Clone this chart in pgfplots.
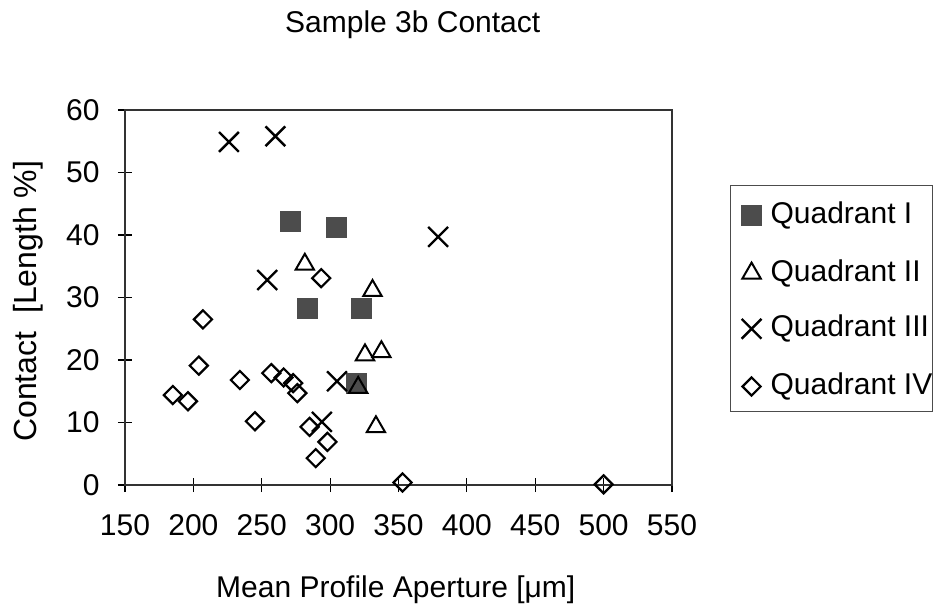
\documentclass[border=0pt]{standalone}
\usepackage{fontspec}
\setmainfont{Liberation Sans}
\usepackage{pgfplots}
\pgfplotsset{compat=1.18}
\begin{document}
\begin{tikzpicture}[font=\fontsize{15bp}{18bp}\selectfont]
\useasboundingbox (-62.5bp,-61bp) rectangle (408.5bp,242.5bp);
\begin{axis}[
  scale only axis, width=273.5bp, height=187.5bp,
  xmin=150, xmax=550, ymin=0, ymax=60,
  xtick={150,200,...,550}, ytick={0,10,...,60},
  xtick pos=bottom, ytick pos=left,
  /pgf/number format/assume math mode=true,
  tick align=center, major tick length=7bp,
  every tick/.style={black, line width=0.6bp},
  axis line style={black!80, line width=0.8bp},
  xticklabel style={anchor=center, yshift=-16.5bp, inner sep=0pt},
  yticklabel style={anchor=east, inner sep=0pt, xshift=-9bp},
  title={Sample 3b Contact},
  title style={at={(axis description cs:0.526,1.208)}, anchor=base, inner sep=0pt, yshift=-6pt},
  xlabel={Mean Profile Aperture [μm]},
  xlabel style={at={(axis description cs:0.495,-0.2987)}, anchor=base, inner sep=0pt},
  ylabel={Contact\ \ [Length \%]},
  ylabel style={at={(axis description cs:-0.1773,0.49)}, anchor=center, rotate=0, inner sep=0pt, font=\fontsize{16bp}{19bp}\selectfont},
  clip=false,
  legend cell align=left,
  legend style={at={(1.106,0.8)}, anchor=north west, draw=black!70, line width=0.6bp,
    inner xsep=0pt, inner ysep=8bp, row sep=17bp,
    nodes={inner sep=0pt, text height=10.8bp, text depth=0bp},
    /tikz/every even column/.append style={column sep=0pt},
    /tikz/every odd column/.append style={column sep=0pt}},
  legend image code/.code={\path[draw=none,fill=none] (0bp,-5bp) rectangle (20bp,5bp); \draw[#1] plot coordinates {(10.5bp,-1.5bp)};},
]
\addplot[only marks, mark=square*, mark size=5bp, mark options={fill=black!70, draw=black!70}]
  coordinates {(271,42.1) (304.5,41.2) (283.5,28.3) (323,28.3) (319.5,16.3)};
\addlegendentry{Quadrant I}
\addplot[only marks, mark=triangle, mark size=5.3bp, mark options={line width=1bp, draw=black}]
  coordinates {(281.5,35.3) (331,31.1) (325.5,20.8) (337.5,21.3) (320.5,15.6) (333.5,9.3)};
\addlegendentry{Quadrant II}
\addplot[only marks, mark=x, mark size=7bp, mark options={line width=1.2bp, draw=black}]
  coordinates {(226,54.9) (260,55.8) (254,32.8) (305,16.6) (294,10.1) (379,39.7)};
\addlegendentry{Quadrant III}
\addplot[only marks, mark=square, mark size=3.2bp, mark options={rotate=45, line width=1.1bp, draw=black}]
  coordinates {(207,26.5) (204,19.1) (185,14.4) (196,13.4) (234,16.8) (245,10.2) (257,17.9) (266,17.2) (273,16.3) (276,14.7) (285,9.3) (298,6.9) (289.5,4.3) (293.5,33.1) (353,0.4) (500,0.1)};
\addlegendentry{Quadrant IV}
\end{axis}
\end{tikzpicture}
\end{document}
